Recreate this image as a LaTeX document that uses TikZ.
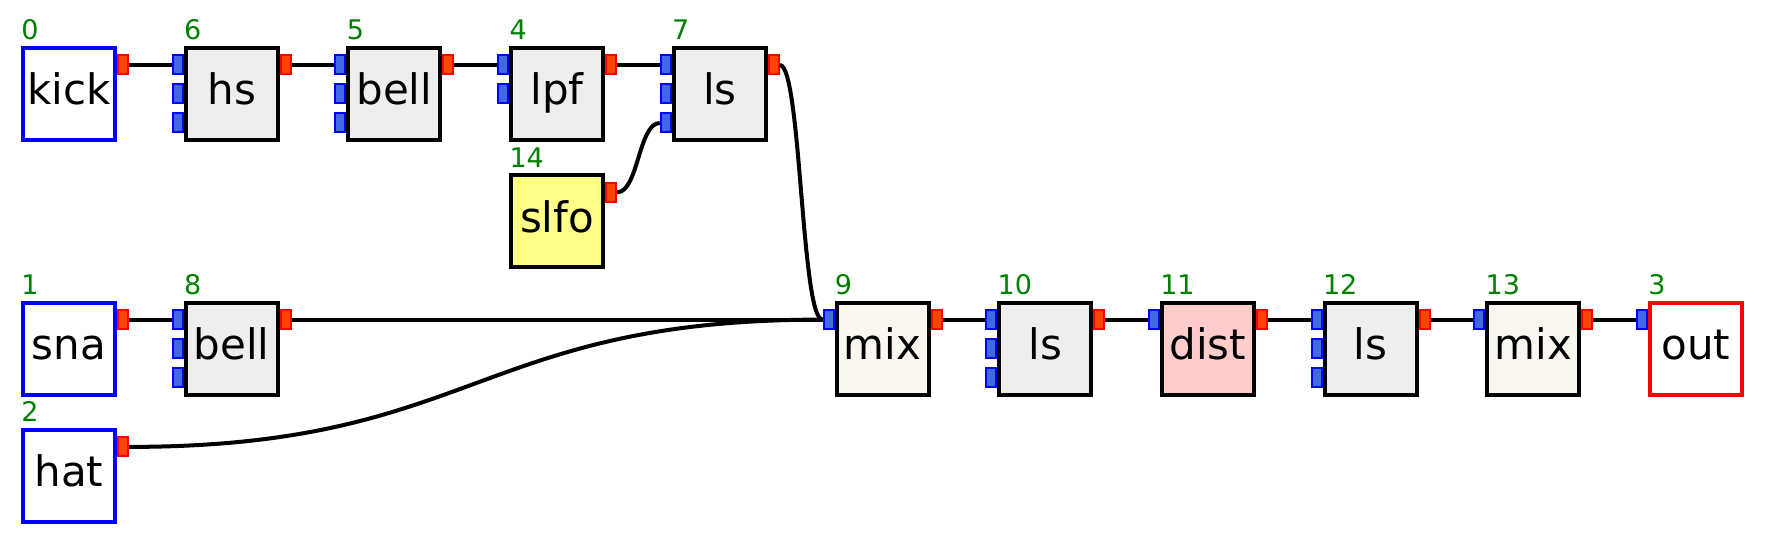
\documentclass[tikz,border=0pt]{standalone}
\usepackage{fontspec}
\setmainfont{DejaVu Sans}
\usetikzlibrary{calc}

\definecolor{modgray}{HTML}{EEEEEE}
\definecolor{lfoyellow}{HTML}{FFFF88}
\definecolor{mixcream}{HTML}{F8F6EE}
\definecolor{distpink}{HTML}{FFCCCC}
\definecolor{inblue}{HTML}{4169E1}
\definecolor{outorange}{HTML}{FF4500}
\definecolor{idgreen}{HTML}{008000}

% wire from an output port to an input port, flat at both ends
\newcommand{\wire}[2]{\draw[wire] let \p1=(#1), \p2=(#2) in (\p1) .. controls ({(\x1+\x2)/2},\y1) and ({(\x1+\x2)/2},\y2) .. (\p2);}

\begin{document}
\begin{tikzpicture}[x=0.5pt,y=-0.5pt]
	\tikzstyle{every node}=[inner sep=0pt]
	\tikzstyle{box}=[draw=black,fill=modgray,line width=2pt,minimum size=46pt,
		font=\fontsize{21}{24}\selectfont,text height=14pt,text depth=3pt]
	\tikzstyle{srcbox}=[box,draw=blue,fill=white]
	\tikzstyle{sinkbox}=[box,draw=red,fill=white]
	\tikzstyle{inport}=[draw=blue,fill=inblue,line width=1pt,minimum width=5pt,minimum height=9.5pt]
	\tikzstyle{outport}=[draw=red,fill=outorange,line width=1pt,minimum width=5pt,minimum height=9.5pt]
	\tikzstyle{num}=[anchor=base west,text=idgreen,font=\fontsize{13.5}{15}\selectfont]
	\tikzstyle{wire}=[line width=2pt,black]

	\useasboundingbox (0,0) rectangle (1765,544);

	% modules
	\node[srcbox] (kick) at (69,94) {kick};
	\node[box] (hs) at (231.7,94) {hs};
	\node[box] (bellk) at (394.4,94) {bell};
	\node[box] (lpf) at (557.1,94) {lpf};
	\node[box] (lsk) at (719.8,94) {ls};
	\node[box,fill=lfoyellow] (slfo) at (557.1,221.3) {slfo};
	\node[srcbox] (sna) at (69,348.6) {sna};
	\node[box] (bells) at (231.7,348.6) {bell};
	\node[box,fill=mixcream] (mixa) at (882.5,348.6) {mix};
	\node[box] (lsa) at (1045.2,348.6) {ls};
	\node[box,fill=distpink] (dist) at (1207.9,348.6) {dist};
	\node[box] (lsb) at (1370.6,348.6) {ls};
	\node[box,fill=mixcream] (mixb) at (1533.3,348.6) {mix};
	\node[sinkbox] (out) at (1696,348.6) {out};
	\node[srcbox] (hat) at (69,475.9) {hat};

	% ids
	\foreach \b/\n in {kick/0, hs/6, bellk/5, lpf/4, lsk/7, slfo/14, sna/1, bells/8,
		mixa/9, lsa/10, dist/11, lsb/12, mixb/13, out/3, hat/2}
		\node[num] (\b-id) at ([yshift=3pt]\b.north west) {\n};

	% ports
	\foreach \b/\k in {hs/3, bellk/3, lpf/2, lsk/3, bells/3, mixa/1, lsa/3, dist/1, lsb/3, mixb/1, out/1}
		\foreach \i in {1,...,\k}
			\node[inport] (\b-i\i) at ([xshift=-27pt,yshift={(2-\i)*14.5pt}]\b.center) {};
	\foreach \b in {kick, hs, bellk, lpf, lsk, slfo, sna, bells, hat, mixa, lsa, dist, lsb, mixb}
		\node[outport] (\b-o) at ([xshift=27pt,yshift=14.5pt]\b.center) {};

	% wires
	\wire{kick-o.east}{hs-i1.west}
	\wire{hs-o.east}{bellk-i1.west}
	\wire{bellk-o.east}{lpf-i1.west}
	\wire{lpf-o.east}{lsk-i1.west}
	\wire{slfo-o.east}{lsk-i3.west}
	\wire{lsk-o.east}{mixa-i1.west}
	\wire{sna-o.east}{bells-i1.west}
	\wire{bells-o.east}{mixa-i1.west}
	\wire{hat-o.east}{mixa-i1.west}
	\wire{mixa-o.east}{lsa-i1.west}
	\wire{lsa-o.east}{dist-i1.west}
	\wire{dist-o.east}{lsb-i1.west}
	\wire{lsb-o.east}{mixb-i1.west}
	\wire{mixb-o.east}{out-i1.west}
\end{tikzpicture}
\end{document}
